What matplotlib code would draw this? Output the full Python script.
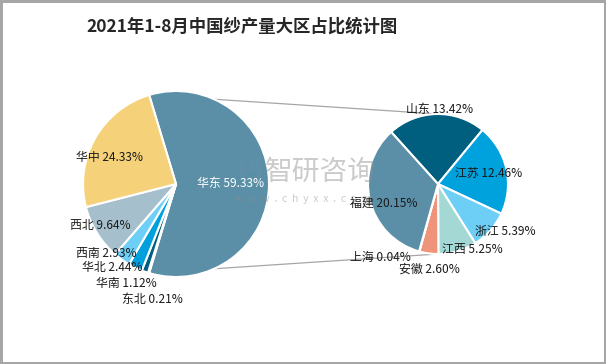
import matplotlib.pyplot as plt
import numpy as np

plt.rcParams['font.family'] = ['Noto Sans CJK SC', 'DejaVu Sans']

# main pie: regions (华东 is split into the second pie)
regions = ['华东', '东北', '华南', '华北', '西南', '西北', '华中']
region_pct = [59.33, 0.21, 1.12, 2.44, 2.93, 9.64, 24.33]
region_colors = ['#5B8FA8', '#1F4E79', '#00607F', '#00A0DC', '#6DCFF6', '#A5BFCC', '#F5D27A']

# second pie: provinces of 华东
provinces = ['山东', '江苏', '浙江', '江西', '安徽', '上海', '福建']
province_pct = [13.42, 12.46, 5.39, 5.25, 2.60, 0.04, 20.15]
province_colors = ['#005F7F', '#00A2DE', '#6DCFF6', '#A3D8D4', '#F0937B', '#C9C9C9', '#5B8FA8']

# label spots (pixels, y down)
region_label_xy = [(231, 183), (152, 299), (126, 283), (112, 268), (106, 253), (100, 225), (110, 158)]
province_label_xy = [(440, 109), (489, 173), (505, 231), (472, 249), (429, 269), (380, 257), (384, 203)]

W, H = 606, 364
fig = plt.figure(figsize=(W / 100, H / 100), dpi=100, edgecolor='#A6A6A6', linewidth=2.5)
ax = fig.add_axes([0, 0, 1, 1])

c1, r1 = (176, H - 184), 93
c2, r2 = (438, H - 184), 70

# first pie: 华东 centred on 3 o'clock, clockwise
start1 = region_pct[0] / 100 * 360 / 2
ax.pie(region_pct, colors=region_colors, center=c1, radius=r1, startangle=start1,
       counterclock=False, wedgeprops=dict(edgecolor='white', linewidth=1.5), frame=True)

start2 = 132
ax.pie(province_pct, colors=province_colors, center=c2, radius=r2, startangle=start2,
       counterclock=False, wedgeprops=dict(edgecolor='white', linewidth=1.5), frame=True)
ax.set_xlim(0, W)
ax.set_ylim(0, H)
ax.set_aspect('equal')
ax.axis('off')

# connector lines from the split slice to the second pie
a = np.deg2rad(start1)
p_top = (c1[0] + r1 * np.cos(a), c1[1] + r1 * np.sin(a))
p_bot = (c1[0] + r1 * np.cos(a), c1[1] - r1 * np.sin(a))
ax.plot([p_top[0], c2[0]], [p_top[1], c2[1] + r2], color='#A6A6A6', lw=0.9, zorder=0)
ax.plot([p_bot[0], c2[0]], [p_bot[1], c2[1] - r2], color='#A6A6A6', lw=0.9, zorder=0)

# watermark
ax.text(320, H - 172, '智研咨询', fontsize=20, color='#8C8C8C', alpha=0.45,
        ha='center', va='center', zorder=5)
ax.text(303, H - 199, 'w  w  w  .  c  h  y  x  x  .  c  o  m', fontsize=7.5, color='#8C8C8C',
        alpha=0.45, ha='center', va='center', zorder=5)
ax.text(250, H - 171, 'Pi', fontsize=19, color='#6F8FA8', alpha=0.3, fontweight='bold',
        ha='center', va='center', zorder=5)

for i, (name, v) in enumerate(zip(regions, region_pct)):
    x, y = region_label_xy[i]
    ax.text(x, H - y, f'{name} {v:.2f}%', fontsize=8.6, ha='center', va='center',
            color='white' if i == 0 else '#1A1A1A', zorder=6)

for i, (name, v) in enumerate(zip(provinces, province_pct)):
    x, y = province_label_xy[i]
    ax.text(x, H - y, f'{name} {v:.2f}%', fontsize=8.6, ha='center', va='center',
            color='#1A1A1A', zorder=6)

ax.text(242, H - 27, '2021年1-8月中国纱产量大区占比统计图', fontsize=12.5, fontweight='bold',
        ha='center', va='center', color='#262626')

fig.savefig('out.png', dpi=100, edgecolor=fig.get_edgecolor())
